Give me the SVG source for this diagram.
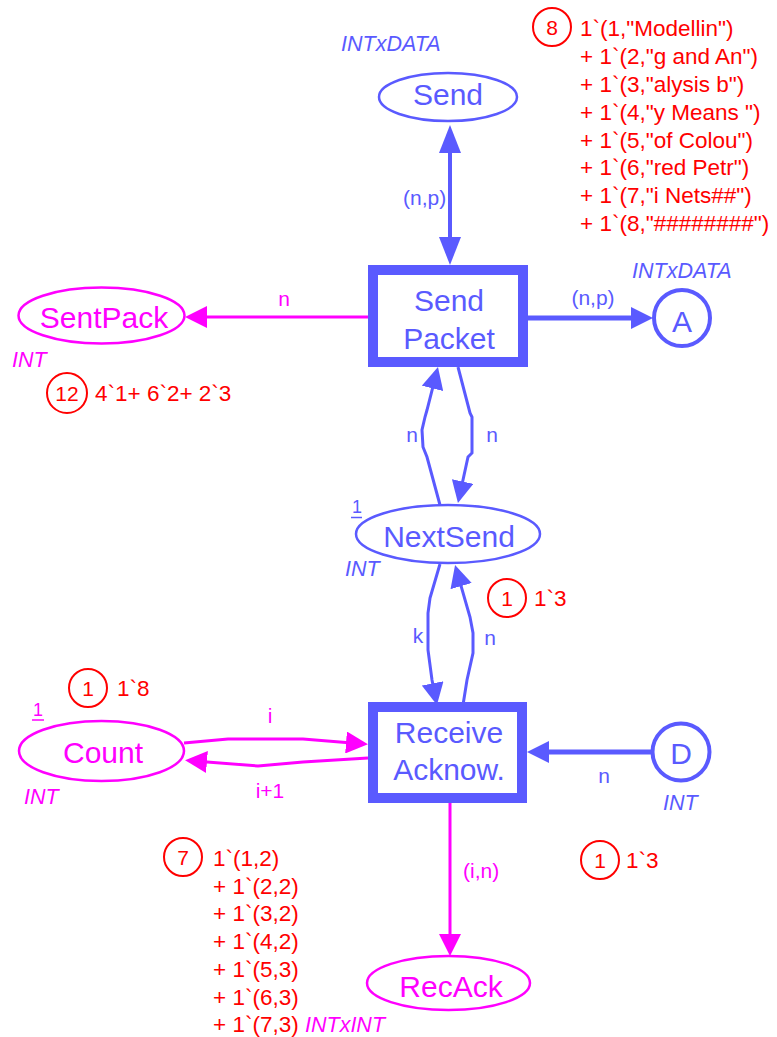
<svg xmlns="http://www.w3.org/2000/svg" width="777" height="1037" viewBox="0 0 777 1037">
<style>
text{font-family:"Liberation Sans",Arial,sans-serif}
.b{fill:#5a5aff}.m{fill:#ff00ff}.r{fill:#ff0000}
.nt{font-size:30px;text-anchor:middle}
.lb{font-size:21px}
.ty{font-size:21.5px;font-style:italic}
.mk{font-size:22.5px;fill:#ff0000}
.tk{fill:none;stroke:#ff0000;stroke-width:2}
.tn{font-size:21px;fill:#ff0000;text-anchor:middle}
.pb{fill:#fff;stroke:#5a5aff;stroke-width:2.5}
.pm{fill:#fff;stroke:#ff00ff;stroke-width:2.5}
.tr{fill:#fff;stroke:#5a5aff;stroke-width:10}
.ab{fill:none;stroke:#5a5aff}
.am{fill:none;stroke:#ff00ff;stroke-width:3}
</style>
<defs>
<marker id="hb" viewBox="0 0 22 22" refX="12" refY="11" markerWidth="22" markerHeight="22" markerUnits="userSpaceOnUse" orient="auto"><path d="M0,0L22,11L0,22z" fill="#5a5aff"/></marker>
<marker id="hB" viewBox="0 0 28 22" refX="16" refY="11" markerWidth="28" markerHeight="22" markerUnits="userSpaceOnUse" orient="auto-start-reverse"><path d="M0,0L28,11L0,22z" fill="#5a5aff"/></marker>
<marker id="hm" viewBox="0 0 22 22" refX="12" refY="11" markerWidth="22" markerHeight="22" markerUnits="userSpaceOnUse" orient="auto"><path d="M0,0L22,11L0,22z" fill="#ff00ff"/></marker>
</defs>

<g id="connectors">
<path class="ab" stroke-width="4" d="M450,137L450,253" marker-start="url(#hB)" marker-end="url(#hB)"/>
<path class="ab" stroke-width="5" d="M528,318L643,318" marker-end="url(#hb)"/>
<path class="am" d="M368,317L195,317" marker-end="url(#hm)"/>
<path class="ab" stroke-width="3" d="M440,505L427,457L423,447L422,430L425,417L427,410L435.5,376.7" marker-end="url(#hb)"/>
<path class="ab" stroke-width="3" d="M458,367L470,413L472,417L472,453L468,457L460.1,493.2" marker-end="url(#hb)"/>
<path class="ab" stroke-width="3" d="M440,564L430,598L428,613L428,650L432,680L435,695.2" marker-end="url(#hb)"/>
<path class="ab" stroke-width="3" d="M463,705L467,680L473,653L473,633L470,617L457.8,574.6" marker-end="url(#hb)"/>
<path class="am" d="M184,743L228,739L303,739L358,743.4" marker-end="url(#hm)"/>
<path class="am" d="M368,758L303,762L258,766L207,762L195,761" marker-end="url(#hm)"/>
<path class="ab" stroke-width="5" d="M654,752L537,752" marker-end="url(#hb)"/>
<path class="am" d="M450,803L450,946" marker-end="url(#hm)"/>
<text class="lb b" x="403" y="205">(n,p)</text>
<text class="lb m" x="284" y="306" text-anchor="middle">n</text>
<text class="lb b" x="593" y="305" text-anchor="middle">(n,p)</text>
<text class="lb b" x="412" y="442" text-anchor="middle">n</text>
<text class="lb b" x="492" y="442" text-anchor="middle">n</text>
<text class="lb b" x="418" y="643" text-anchor="middle">k</text>
<text class="lb b" x="490" y="645" text-anchor="middle">n</text>
<text class="lb m" x="270" y="723" text-anchor="middle">i</text>
<text class="lb m" x="270" y="798" text-anchor="middle">i+1</text>
<text class="lb b" x="604" y="783" text-anchor="middle">n</text>
<text class="lb m" x="463" y="878">(i,n)</text>
</g>

<g id="Send">
<ellipse class="pb" cx="448" cy="97" rx="69" ry="24"/>
<text class="nt b" x="448" y="105">Send</text>
<text class="ty b" x="341" y="51">INTxDATA</text>
<circle class="tk" cx="552" cy="27" r="19"/>
<text class="tn" x="552" y="35">8</text>
<text class="mk" x="580" y="36">1`(1,"Modellin")</text>
<text class="mk" x="580" y="64">+ 1`(2,"g and An")</text>
<text class="mk" x="580" y="92">+ 1`(3,"alysis b")</text>
<text class="mk" x="580" y="120">+ 1`(4,"y Means ")</text>
<text class="mk" x="580" y="148">+ 1`(5,"of Colou")</text>
<text class="mk" x="580" y="175">+ 1`(6,"red Petr")</text>
<text class="mk" x="580" y="203">+ 1`(7,"i Nets##")</text>
<text class="mk" x="580" y="231">+ 1`(8,"########")</text>
</g>

<g id="SendPacket">
<rect class="tr" x="373" y="270" width="150" height="92"/>
<text class="nt b" x="449" y="311">Send</text>
<text class="nt b" x="449" y="349">Packet</text>
</g>

<g id="A">
<circle cx="682" cy="318" r="28" fill="#fff" stroke="#5a5aff" stroke-width="4"/>
<text class="nt b" x="682" y="332">A</text>
<text class="ty b" x="632" y="278">INTxDATA</text>
</g>

<g id="SentPack">
<ellipse class="pm" cx="101.5" cy="315.5" rx="83" ry="28"/>
<text class="nt m" x="104" y="328">SentPack</text>
<text class="ty m" x="12" y="367">INT</text>
<circle class="tk" cx="67" cy="393" r="20"/>
<text class="tn" x="67" y="401">12</text>
<text class="mk" x="95" y="401">4`1+ 6`2+ 2`3</text>
</g>

<g id="NextSend">
<ellipse class="pb" cx="448" cy="534" rx="92" ry="29"/>
<text class="nt b" x="449" y="547">NextSend</text>
<text class="b" x="352" y="513" font-size="18">1</text>
<line x1="351" y1="517.5" x2="362" y2="517.5" stroke="#5a5aff" stroke-width="1.5"/>
<text class="ty b" x="345" y="576">INT</text>
<circle class="tk" cx="507" cy="598" r="19"/>
<text class="tn" x="507" y="606">1</text>
<text class="mk" x="534" y="606">1`3</text>
</g>

<g id="Count">
<ellipse class="pm" cx="101.5" cy="751" rx="82.5" ry="30"/>
<text class="nt m" x="103" y="763">Count</text>
<text class="m" x="33" y="716" font-size="18">1</text>
<line x1="32" y1="720" x2="44" y2="720" stroke="#ff00ff" stroke-width="1.5"/>
<text class="ty m" x="24" y="804">INT</text>
<circle class="tk" cx="88" cy="688" r="19"/>
<text class="tn" x="88" y="696">1</text>
<text class="mk" x="117" y="696">1`8</text>
</g>

<g id="ReceiveAcknow">
<rect class="tr" x="373" y="707" width="149" height="91"/>
<text class="nt b" x="449" y="743">Receive</text>
<text class="nt b" x="449" y="780">Acknow.</text>
</g>

<g id="D">
<circle cx="681" cy="752" r="28.5" fill="#fff" stroke="#5a5aff" stroke-width="4"/>
<text class="nt b" x="681" y="764">D</text>
<text class="ty b" x="663" y="810">INT</text>
<circle class="tk" cx="600" cy="860" r="19"/>
<text class="tn" x="600" y="868">1</text>
<text class="mk" x="626" y="868">1`3</text>
</g>

<g id="RecAck">
<ellipse class="pm" cx="448.5" cy="983" rx="81.5" ry="27"/>
<text class="nt m" x="451" y="997">RecAck</text>
<circle class="tk" cx="183" cy="857" r="19"/>
<text class="tn" x="183" y="865">7</text>
<text class="mk" x="213" y="866">1`(1,2)</text>
<text class="mk" x="213" y="893.7">+ 1`(2,2)</text>
<text class="mk" x="213" y="921.4">+ 1`(3,2)</text>
<text class="mk" x="213" y="949">+ 1`(4,2)</text>
<text class="mk" x="213" y="976.8">+ 1`(5,3)</text>
<text class="mk" x="213" y="1004.5">+ 1`(6,3)</text>
<text class="mk" x="213" y="1032">+ 1`(7,3)</text>
<text class="ty m" x="305" y="1032">INTxINT</text>
</g>
</svg>
